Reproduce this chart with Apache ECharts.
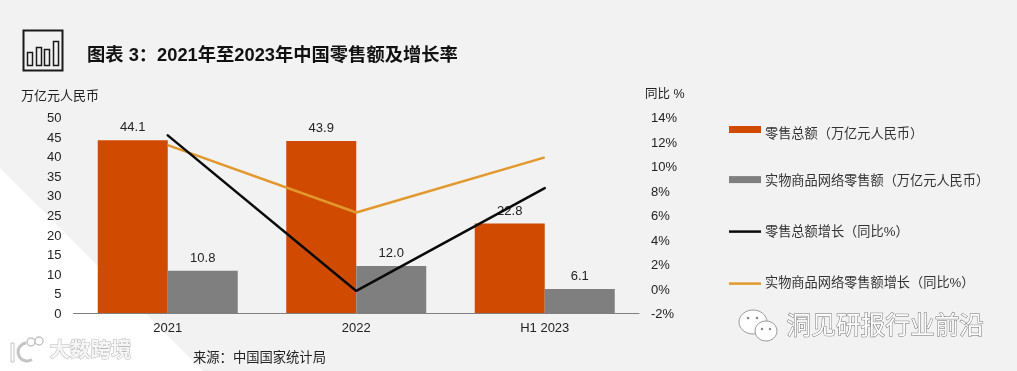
<!DOCTYPE html>
<html>
<head>
<meta charset="utf-8">
<style>
html,body{margin:0;padding:0;background:#f2f2f2;}
#main{width:1017px;height:371px;}
</style>
<script src="https://cdn.jsdelivr.net/npm/echarts@6/dist/echarts.min.js"></script>
</head>
<body>
<div id="main"></div>
<script>
var categories = ['2021', '2022', 'H1 2023'];
var retailTotal = [44.1, 43.9, 22.8];
var onlineRetail = [10.8, 12.0, 6.1];
var retailGrowth = [12.5, -0.2, 8.2];
var onlineGrowth = [11.7, 6.2, 10.7];
var seriesNames = ['零售总额（万亿元人民币）', '实物商品网络零售额（万亿元人民币）', '零售总额增长（同比%）', '实物商品网络零售额增长（同比%）'];

var cjk = '"Liberation Sans","Noto Sans CJK SC",sans-serif';
var barIcon = 'path://M0 0H32V7H0Z';
var lineIcon = 'path://M0 0H32V2.5H0Z';

// each legend row is placed on its own, the text drifts a bit from the icons in the original
function legendRow(name, icon, top, textPadding) {
    return {
        orient: 'horizontal',
        left: 724, top: top,
        padding: 5,
        itemWidth: 32, itemHeight: 7,
        itemGap: 0,
        selectedMode: false,
        icon: icon,
        formatter: '{t|{name}}',
        textStyle: {
            rich: { t: { fontSize: 13.2, color: '#333', fontFamily: cjk, padding: textPadding } }
        },
        data: [name]
    };
}

var chart = echarts.init(document.getElementById('main'));
chart.setOption({
    backgroundColor: '#f2f2f2',
    animation: false,
    textStyle: { fontFamily: cjk },
    title: {
        text: '图表 3：2021年至2023年中国零售额及增长率',
        left: 82, top: 42,
        textStyle: { fontSize: 18.3, fontWeight: 'bold', color: '#111', fontFamily: cjk }
    },
    legend: [
        legendRow(seriesNames[0], barIcon, 121, [10, 0, 0, -1]),
        legendRow(seriesNames[1], barIcon, 170, [4, 0, 0, -1]),
        legendRow(seriesNames[2], lineIcon, 221, [2, 0, 0, -1]),
        legendRow(seriesNames[3], lineIcon, 272, [0, 0, 0, -1])
    ],
    grid: { left: 73.5, right: 378, top: 117, bottom: 58 },
    xAxis: {
        type: 'category',
        data: categories,
        axisTick: { show: false },
        axisLine: { lineStyle: { color: '#7f7f7f', width: 1 } },
        axisLabel: { color: '#222', fontSize: 13, margin: 9 }
    },
    yAxis: [
        {
            type: 'value', min: 0, max: 50, interval: 5,
            splitLine: { show: false },
            axisLine: { show: false }, axisTick: { show: false },
            axisLabel: { color: '#222', fontSize: 13, margin: 12, verticalAlign: 'top', padding: [-5, 0, 0, 0] }
        },
        {
            type: 'value', min: -2, max: 14, interval: 2,
            splitLine: { show: false },
            axisLine: { show: false }, axisTick: { show: false },
            axisLabel: { color: '#222', fontSize: 13, margin: 12, verticalAlign: 'top', padding: [-5, 0, 0, 0], formatter: '{value}%' }
        }
    ],
    series: [
        {
            name: seriesNames[0], type: 'bar', data: retailTotal,
            barWidth: 70, barGap: 0,
            itemStyle: { color: '#d04a02' },
            label: { show: true, position: 'top', distance: 6, color: '#222', fontSize: 13 }
        },
        {
            name: seriesNames[1], type: 'bar', data: onlineRetail,
            barWidth: 70,
            itemStyle: { color: '#7f7f7f' },
            label: { show: true, position: 'top', distance: 6, color: '#222', fontSize: 13, formatter: function (p) { return p.value.toFixed(1); } }
        },
        {
            name: seriesNames[2], type: 'line', yAxisIndex: 1, data: retailGrowth,
            symbol: 'none', z: 5,
            lineStyle: { color: '#0a0a0a', width: 2.5, cap: 'round' },
            itemStyle: { color: '#0a0a0a' }
        },
        {
            name: seriesNames[3], type: 'line', yAxisIndex: 1, data: onlineGrowth,
            symbol: 'none', z: 4,
            lineStyle: { color: '#e2982c', width: 2.5 },
            itemStyle: { color: '#e2982c' }
        }
    ],
    graphic: [
        // white corner behind the chart
        { type: 'polygon', silent: true, z: -10, shape: { points: [[0, 168], [203, 371], [0, 371]] }, style: { fill: '#ffffff' } },
        // title icon
        { type: 'rect', shape: { x: 23.5, y: 30.5, width: 39, height: 40 }, style: { fill: 'none', stroke: '#1a1a1a', lineWidth: 2 } },
        { type: 'rect', shape: { x: 27.5, y: 52.5, width: 5, height: 13 }, style: { fill: 'none', stroke: '#1a1a1a', lineWidth: 1.5 } },
        { type: 'rect', shape: { x: 36.5, y: 47.5, width: 5, height: 18 }, style: { fill: 'none', stroke: '#1a1a1a', lineWidth: 1.5 } },
        { type: 'rect', shape: { x: 44.5, y: 49.5, width: 5, height: 16 }, style: { fill: 'none', stroke: '#1a1a1a', lineWidth: 1.5 } },
        { type: 'rect', shape: { x: 53.5, y: 41.5, width: 5, height: 24 }, style: { fill: 'none', stroke: '#1a1a1a', lineWidth: 1.5 } },
        { type: 'text', left: 21, top: 90, style: { text: '万亿元人民币', fontSize: 13, fill: '#222', fontFamily: cjk } },
        { type: 'text', left: 645, top: 88, style: { text: '同比 %', fontSize: 12.5, fill: '#222', fontFamily: cjk } },
        { type: 'text', left: 193, top: 352, style: { text: '来源：中国国家统计局', fontSize: 13.3, fill: '#222', fontFamily: cjk } },
        // watermark bottom left
        { type: 'rect', shape: { x: 11, y: 343, width: 3, height: 19 }, style: { fill: '#fff', stroke: '#c4c4c4', lineWidth: 1 } },
        { type: 'arc', shape: { cx: 27, cy: 352, r: 9, startAngle: 1, endAngle: 4.6 }, style: { fill: 'none', stroke: '#c4c4c4', lineWidth: 3 } },
        { type: 'circle', shape: { cx: 31, cy: 342, r: 4 }, style: { fill: '#fff', stroke: '#c4c4c4', lineWidth: 1.5 } },
        { type: 'circle', shape: { cx: 39, cy: 341, r: 4 }, style: { fill: '#fff', stroke: '#c4c4c4', lineWidth: 1.5 } },
        { type: 'text', left: 49, top: 341, style: { text: '大数跨境', fontSize: 20.5, fontWeight: 'bold', fill: '#f6f6f6', stroke: '#b8b8b8', lineWidth: 1, fontFamily: cjk } },
        // watermark bottom right
        { type: 'ellipse', shape: { cx: 753, cy: 322, rx: 14, ry: 12 }, style: { fill: '#fff', stroke: '#999', lineWidth: 1 } },
        { type: 'ellipse', shape: { cx: 766, cy: 331, rx: 11, ry: 10 }, style: { fill: '#fff', stroke: '#999', lineWidth: 1 } },
        { type: 'circle', shape: { cx: 748, cy: 318, r: 1.3 }, style: { fill: '#888' } },
        { type: 'circle', shape: { cx: 757, cy: 318, r: 1.3 }, style: { fill: '#888' } },
        { type: 'circle', shape: { cx: 762, cy: 329, r: 1.2 }, style: { fill: '#888' } },
        { type: 'circle', shape: { cx: 770, cy: 329, r: 1.2 }, style: { fill: '#888' } },
        { type: 'text', left: 786, top: 314, style: { text: '洞见研报行业前沿', fontSize: 24.7, fill: '#ffffff', stroke: '#707070', lineWidth: 1, fontFamily: cjk } }
    ]
});
</script>
</body>
</html>
